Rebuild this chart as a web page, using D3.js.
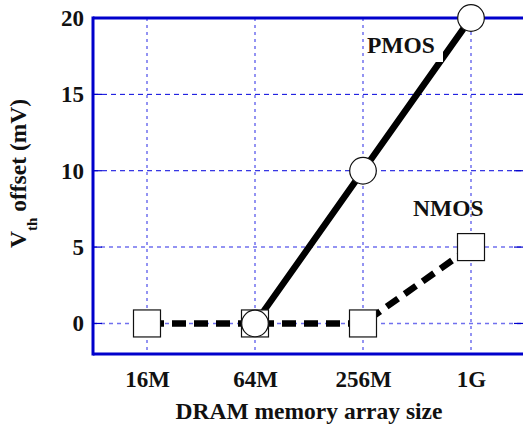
<!DOCTYPE html>
<html><head><meta charset="utf-8">
<script src="https://cdn.jsdelivr.net/npm/d3@7"></script>
</head><body style="margin:0;background:#fff"><svg id="c" width="523" height="429"></svg>
<script>
const categories = ["16M","64M","256M","1G"];
const pmosValues = [null, 0, 10, 20];
const nmosValues = [0, 0, 0, 5];
const yTicks = [0, 5, 10, 15, 20];

const FONT = "Liberation Serif";
const svg = d3.select("#c");
const x = d3.scaleLinear().domain([-0.5, 3.5]).range([93, 525]);
const y = d3.scaleLinear().domain([-2, 20]).range([354, 18]);

function serif(sel, size) {
  return sel.attr("font-family", FONT).attr("font-weight", "bold").attr("font-size", size)
    .style("font-family", FONT).style("font-weight", "bold").style("font-size", size + "px").attr("fill", "#111");
}

// grid
const gv = svg.append("g");
categories.forEach((c,i)=>{
  gv.append("line").attr("x1",x(i)).attr("x2",x(i)).attr("y1",y(20)).attr("y2",y(-2))
    .attr("stroke","#7070ee").attr("stroke-width",1.5).attr("stroke-dasharray","3,4");
});
yTicks.forEach(t=>{
  if (t===20) return;
  const dark = (t===10||t===15);
  gv.append("line").attr("x1",x(-0.5)).attr("x2",523).attr("y1",y(t)).attr("y2",y(t))
    .attr("stroke",dark?"#0000dd":"#7070ee").attr("stroke-width",dark?1:1.5).attr("stroke-dasharray",dark?"5,4":"4,4");
  gv.append("line").attr("x1",x(-0.5)).attr("x2",x(-0.5)+9).attr("y1",y(t)).attr("y2",y(t))
    .attr("stroke","#0000cc").attr("stroke-width",1.2);
  gv.append("line").attr("x1",514).attr("x2",523).attr("y1",y(t)).attr("y2",y(t))
    .attr("stroke","#0000cc").attr("stroke-width",1.2);
});

// axes frame
svg.append("line").attr("x1",x(-0.5)).attr("x2",523).attr("y1",y(20)).attr("y2",y(20)).attr("stroke","#0000cc").attr("stroke-width",3);
svg.append("line").attr("x1",x(-0.5)).attr("x2",523).attr("y1",y(-2)).attr("y2",y(-2)).attr("stroke","#0000cc").attr("stroke-width",3);
svg.append("line").attr("x1",x(-0.5)).attr("x2",x(-0.5)).attr("y1",y(20)-1.5).attr("y2",y(-2)+1.5).attr("stroke","#0000cc").attr("stroke-width",3);

// tick labels
const ya = d3.axisLeft(y).tickValues(yTicks).tickSize(0).tickPadding(9);
const gy = svg.append("g").attr("transform",`translate(${x(-0.5)},0)`).call(ya);
gy.attr("font-family",null).attr("font-size",null);
gy.select(".domain").remove();
serif(gy.selectAll("text"), 23);
const xa = d3.axisBottom(x).tickValues(d3.range(categories.length)).tickFormat(i=>categories[i]).tickSize(0).tickPadding(17);
const gx = svg.append("g").attr("transform",`translate(0,${y(-2)})`).call(xa);
gx.attr("font-family",null).attr("font-size",null);
gx.select(".domain").remove();
serif(gx.selectAll("text"), 23);

// axis titles
serif(svg.append("text").attr("x",309).attr("y",419).attr("text-anchor","middle"), 23.5).text("DRAM memory array size");
const yt = serif(svg.append("text").attr("transform","translate(26,248) rotate(-90)").attr("text-anchor","start"), 23.5);
yt.append("tspan").text("V");
yt.append("tspan").attr("dy",11).attr("font-size",15).style("font-size","15px").text("th");
yt.append("tspan").attr("dy",-11).text(" offset (mV)");

// lines
const line = d3.line().defined(d=>d.v!==null).x(d=>x(d.i)).y(d=>y(d.v));
const pm = pmosValues.map((v,i)=>({i,v}));
const nm = nmosValues.map((v,i)=>({i,v}));
svg.append("path").datum(nm).attr("d",line).attr("fill","none").attr("stroke","#000").attr("stroke-width",6.5).attr("stroke-dasharray","14,8").attr("stroke-dashoffset",-3);
svg.append("path").datum(pm).attr("d",line).attr("fill","none").attr("stroke","#000").attr("stroke-width",6.5);

// labels
svg.append("rect").attr("x",364).attr("y",34).attr("width",79).attr("height",28).attr("fill","#fff");
serif(svg.append("text").attr("x",367).attr("y",53), 23.5).text("PMOS");
serif(svg.append("text").attr("x",413).attr("y",216), 23.5).text("NMOS");

// markers
svg.selectAll("rect.sq").data(nm).join("rect").attr("class","sq")
  .attr("x",d=>x(d.i)-13.5).attr("y",d=>y(d.v)-13.5).attr("width",27).attr("height",27)
  .attr("fill","#fff").attr("stroke","#111").attr("stroke-width",1.2);
svg.selectAll("circle.pc").data(pm.filter(d=>d.v!==null)).join("circle").attr("class","pc")
  .attr("cx",d=>x(d.i)).attr("cy",d=>y(d.v)).attr("r",13.3)
  .attr("fill","#fff").attr("stroke","#111").attr("stroke-width",1.2);
</script></body></html>
